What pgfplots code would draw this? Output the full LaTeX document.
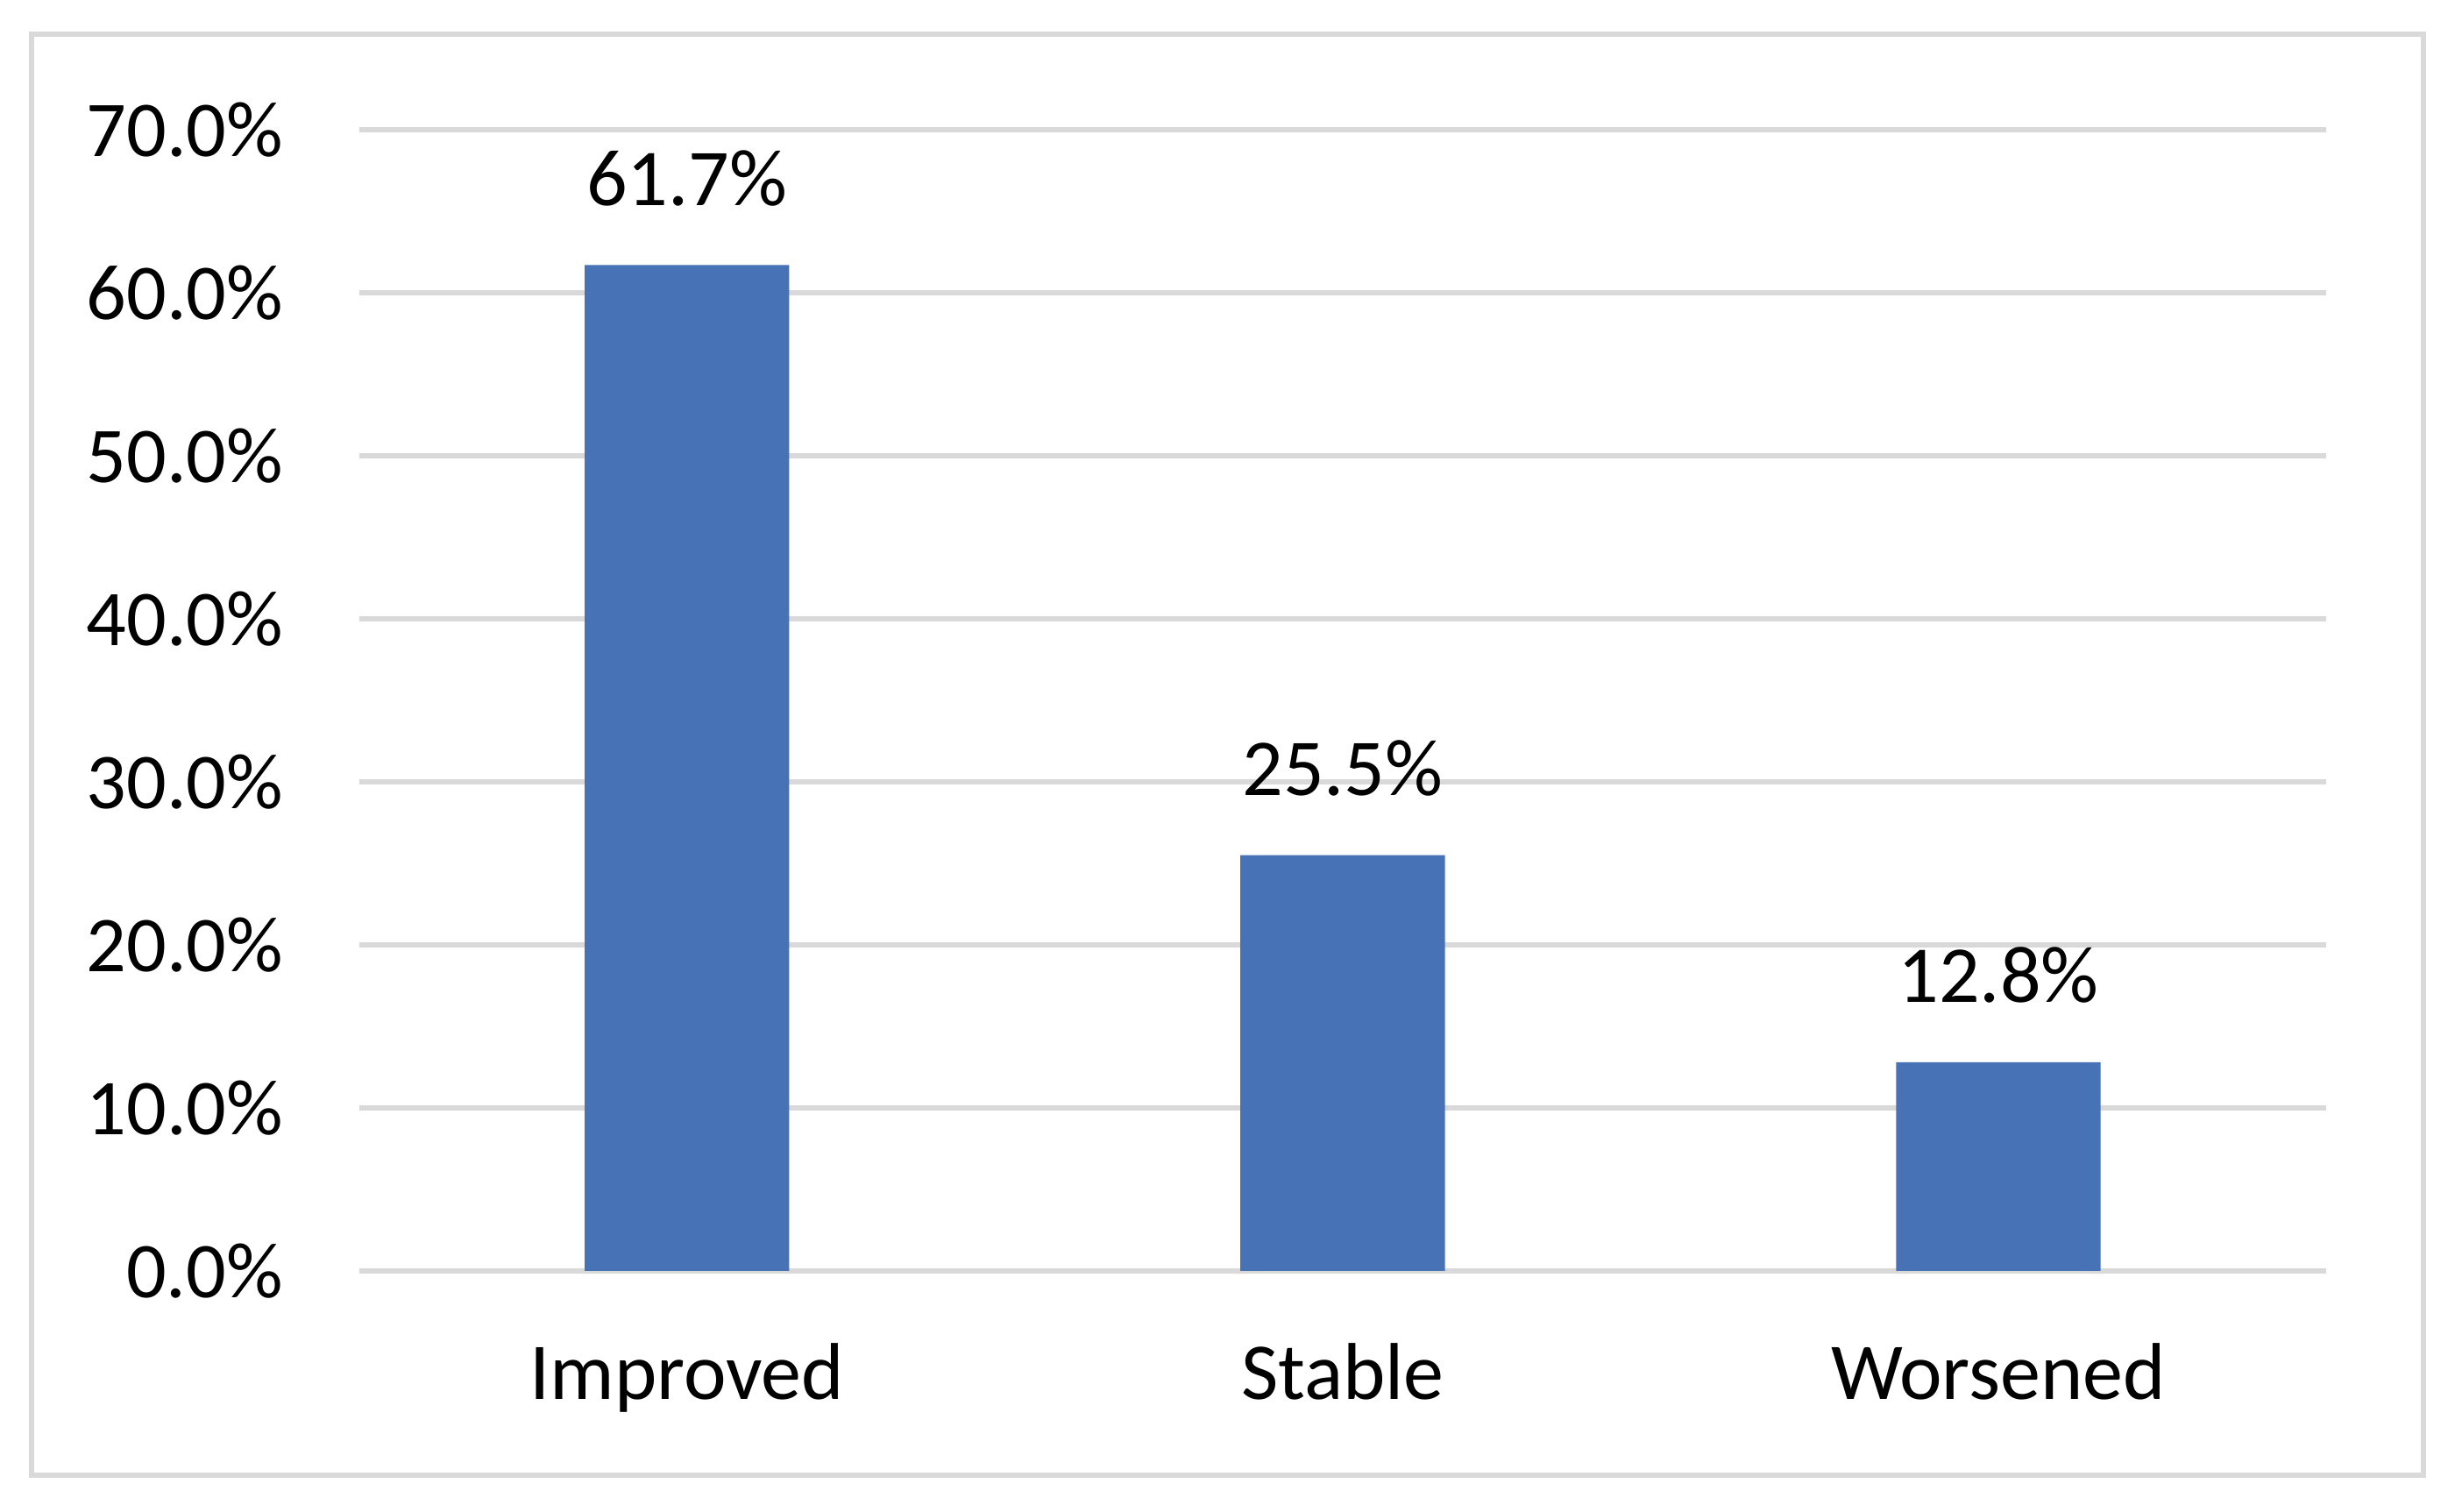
\documentclass[border=0pt]{standalone}
\usepackage{fontspec}
\setmainfont{Carlito}
\usepackage{pgfplots}
\pgfplotsset{compat=1.18}
\definecolor{barblue}{HTML}{4872B6}
\definecolor{gridgray}{HTML}{D9D9D9}
\begin{document}
\begin{tikzpicture}
\useasboundingbox (-2.347,-1.571) rectangle (13.653,8.306);
\draw[gridgray, line width=1pt] (-2.143,-1.337) rectangle (13.490,8.082);
\begin{axis}[
  at={(0,0)}, anchor=south west,
  scale only axis, width=12.857cm, height=7.459cm,
  xmin=-0.5, xmax=2.5, ymin=0, ymax=70,
  ybar, bar width=1.337cm,
  separate axis lines,
  axis x line*=bottom, axis y line*=left,
  x axis line style={gridgray, line width=0.9pt, -},
  y axis line style={draw=none},
  tick style={draw=none}, major tick length=0pt,
  ymajorgrids, grid style={gridgray, line width=0.9pt},
  xtick={0,1,2}, xticklabels={Improved,Stable,Worsened},
  ytick={0,10,...,70},
  /pgf/number format/assume math mode=true,
  yticklabel={\pgfmathprintnumber[fixed,fixed zerofill,precision=1]{\tick}\%},
  yticklabel style={font=\fontsize{14.7}{18}\selectfont, anchor=east, inner sep=0pt, xshift=-0.49cm},
  xticklabel style={font=\fontsize{15}{18}\selectfont, anchor=base, inner sep=0pt, yshift=-0.837cm},
  nodes near coords={\pgfmathprintnumber[fixed,fixed zerofill,precision=1]{\pgfplotspointmeta}\%},
  nodes near coords style={font=\fontsize{15}{18}\selectfont, anchor=base, inner sep=0pt, yshift=0.39cm, black},
  clip=false,
]
\addplot[draw=none, fill=barblue] coordinates {(0,61.7) (1,25.5) (2,12.8)};
\end{axis}
\end{tikzpicture}
\end{document}
